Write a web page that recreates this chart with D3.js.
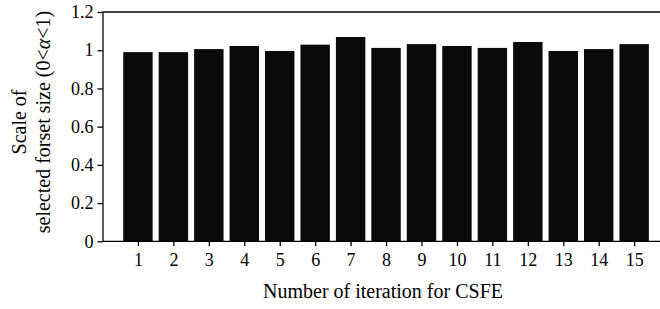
<!DOCTYPE html>
<html><head><meta charset="utf-8">
<script src="https://cdn.jsdelivr.net/npm/d3@7"></script>
<style>body{margin:0;background:#fff}svg{display:block}text{font-family:"Liberation Serif",serif}</style>
</head><body>
<svg id="c" width="660" height="309"></svg>
<script>
const iterations = [1,2,3,4,5,6,7,8,9,10,11,12,13,14,15];
const scaleValues = [0.990,0.990,1.006,1.022,0.996,1.029,1.069,1.012,1.032,1.022,1.012,1.043,0.996,1.006,1.032];
const yTicks = [0,0.2,0.4,0.6,0.8,1,1.2];
const yTickLabels = ["0","0.2","0.4","0.6","0.8","1","1.2"];

const svg = d3.select("#c");
const mLeft = 102.5, mTop = 12, mBottom = 241.3, mRightEnd = 669.6;
const x = d3.scaleLinear().domain([0,16]).range([mLeft, mRightEnd]);
const y = d3.scaleLinear().domain([0,1.2]).range([mBottom, mTop]);
const step = x(1)-x(0);
const bw = step*0.83;

svg.append("g").selectAll("rect").data(iterations).join("rect")
  .attr("x", (d,i)=>x(d)-bw/2).attr("width", bw)
  .attr("y", (d,i)=>y(scaleValues[i])).attr("height", (d,i)=>y(0)-y(scaleValues[i]))
  .attr("fill","#0a0a0a");

// top frame line
svg.append("line").attr("x1",mLeft).attr("x2",660).attr("y1",y(1.2)).attr("y2",y(1.2))
  .attr("stroke","#000").attr("stroke-width",1.3);

const ya = svg.append("g").attr("transform",`translate(${mLeft},0)`)
  .call(d3.axisLeft(y).tickValues(yTicks).tickFormat((d,i)=>yTickLabels[i]).tickSize(5).tickPadding(4).tickSizeOuter(0));
ya.select(".domain").attr("stroke-width",1.3);
ya.selectAll(".tick line").attr("stroke-width",1.3);
ya.selectAll("text").attr("font-size",18).attr("font-family","Liberation Serif").attr("fill","#000");

const xa = svg.append("g").attr("transform",`translate(0,${mBottom})`)
  .call(d3.axisBottom(x).tickValues(iterations).tickFormat(d=>d).tickSize(5).tickPadding(7).tickSizeOuter(0));
xa.select(".domain").attr("d",`M${mLeft},0H660`).attr("stroke-width",1.3);
xa.selectAll(".tick line").attr("stroke-width",1.3);
xa.selectAll("text").attr("font-size",18).attr("font-family","Liberation Serif").attr("fill","#000");

svg.append("text").attr("x",383).attr("y",298).attr("text-anchor","middle")
  .attr("font-size",20).text("Number of iteration for CSFE");

const yt = svg.append("text").attr("transform","translate(0,122) rotate(-90)").attr("text-anchor","middle").attr("font-size",20);
yt.append("tspan").attr("x",0).attr("y",26).text("Scale of");
const t2 = yt.append("tspan").attr("x",0).attr("y",50);
t2.text("selected forset size (0<");
yt.append("tspan").attr("font-style","italic").text("α");
yt.append("tspan").text("<1)");
</script>
</body></html>
